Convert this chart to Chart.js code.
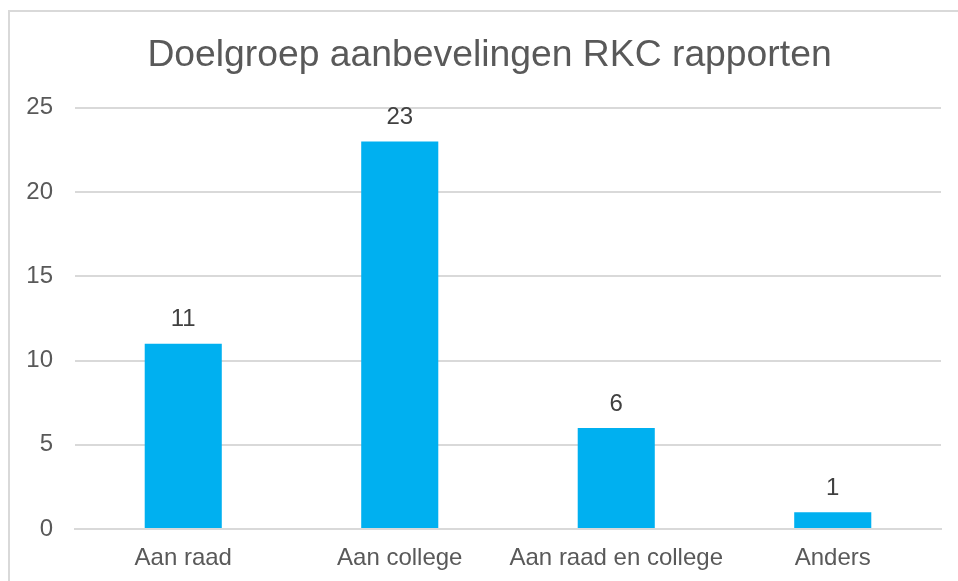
<!DOCTYPE html>
<html>
<head>
<meta charset="utf-8">
<script src="https://cdn.jsdelivr.net/npm/chart.js"></script>
<style>
  html, body { margin: 0; padding: 0; background: #fff; overflow: hidden; }
  #box {
    position: absolute; left: 8px; top: 10px;
    width: 962px; height: 580px;
    border: 2px solid #d9d9d9;
    background: #fff;
  }
</style>
</head>
<body>
<div id="box"><canvas id="myChart" width="962" height="570"></canvas></div>
<script>
  const title = 'Doelgroep aanbevelingen RKC rapporten';
  const categories = ['Aan raad', 'Aan college', 'Aan raad en college', 'Anders'];
  const values = [11, 23, 6, 1];
  const yTicks = [0, 5, 10, 15, 20, 25];

  const textColor = '#595959';
  const font = "'Liberation Sans', Arial, sans-serif";

  // value labels above each bar
  const barLabels = {
    id: 'barLabels',
    afterDatasetsDraw(chart) {
      const ctx = chart.ctx;
      const meta = chart.getDatasetMeta(0);
      ctx.save();
      ctx.fillStyle = '#404040';
      ctx.font = '24px ' + font;
      ctx.textAlign = 'center';
      ctx.textBaseline = 'middle';
      meta.data.forEach((bar, i) => {
        ctx.fillText(String(values[i]), bar.x, bar.y - 24);
      });
      ctx.restore();
    }
  };

  // title is centred on the whole frame, not on the padded box
  const titleShift = {
    id: 'titleShift',
    afterLayout(chart) {
      if (chart.titleBlock) chart.titleBlock.left = 28;
    }
  };

  const ctx = document.getElementById('myChart').getContext('2d');
  new Chart(ctx, {
    type: 'bar',
    data: {
      labels: categories,
      datasets: [{
        data: values,
        backgroundColor: '#00B0F0',
        categoryPercentage: 1,
        barPercentage: 0.356
      }]
    },
    options: {
      responsive: false,
      animation: false,
      layout: { padding: { left: 0, right: 31, top: 13, bottom: 0 } },
      plugins: {
        legend: { display: false },
        tooltip: { enabled: false },
        title: {
          display: true,
          text: title,
          color: textColor,
          font: { family: font, size: 37.3, weight: 'normal' },
          padding: { top: 8, bottom: 30 }
        }
      },
      scales: {
        x: {
          grid: { display: false },
          border: { color: '#d9d9d9', width: 2 },
          ticks: { color: textColor, font: { family: font, size: 24 }, padding: 7, maxRotation: 0 },
          afterFit(scale) { scale.height = 53; }
        },
        y: {
          min: 0,
          max: 25,
          afterBuildTicks(scale) { scale.ticks = yTicks.map(v => ({ value: v })); },
          grid: { color: '#d9d9d9', lineWidth: 2, drawTicks: false },
          border: { display: false },
          ticks: { color: textColor, font: { family: font, size: 24 }, padding: 22 },
          afterFit(scale) { scale.width = 65; }
        }
      }
    },
    plugins: [barLabels, titleShift]
  });
</script>
</body>
</html>
